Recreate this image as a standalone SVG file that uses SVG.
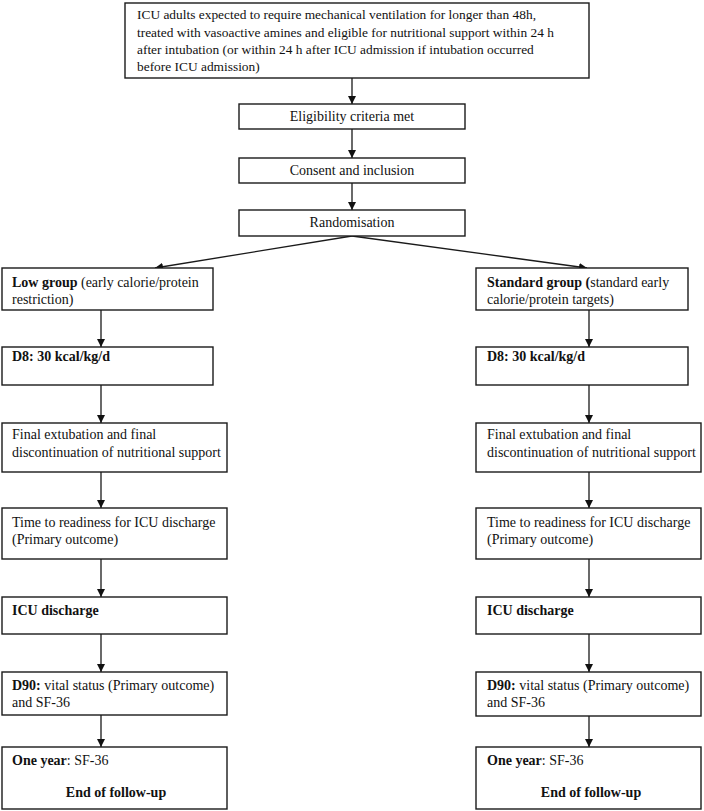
<svg xmlns="http://www.w3.org/2000/svg" width="704" height="811" viewBox="0 0 704 811">
<style>
rect{fill:#fff;stroke:#1a1a1a;stroke-width:1.4}
text{font-family:"Liberation Serif","Times New Roman",serif;font-size:14px;fill:#111}
.s{font-size:13.4px}
.b{font-weight:bold}
.c{text-anchor:middle}
.ln{stroke:#1a1a1a;stroke-width:1.3;fill:none}
</style>
<defs>
<marker id="ah" viewBox="0 0 10 10" refX="10" refY="5" markerWidth="8" markerHeight="8" markerUnits="userSpaceOnUse" orient="auto">
<path d="M0,0 L10,5 L0,10 z" fill="#111"/>
</marker>
</defs>
<rect width="704" height="811" style="fill:#fff;stroke:none"/>
<g id="connectors">
<line class="ln" x1="352" y1="78" x2="352" y2="104" marker-end="url(#ah)"/>
<line class="ln" x1="352" y1="129" x2="352" y2="158" marker-end="url(#ah)"/>
<line class="ln" x1="352" y1="183" x2="352" y2="210" marker-end="url(#ah)"/>
<line class="ln" x1="352" y1="236" x2="155" y2="268" marker-end="url(#ah)"/>
<line class="ln" x1="352" y1="236" x2="587" y2="268" marker-end="url(#ah)"/>
<line class="ln" x1="101" y1="310" x2="101" y2="347" marker-end="url(#ah)"/>
<line class="ln" x1="101" y1="385" x2="101" y2="423" marker-end="url(#ah)"/>
<line class="ln" x1="101" y1="472" x2="101" y2="508" marker-end="url(#ah)"/>
<line class="ln" x1="101" y1="559" x2="101" y2="597" marker-end="url(#ah)"/>
<line class="ln" x1="101" y1="634" x2="101" y2="672" marker-end="url(#ah)"/>
<line class="ln" x1="101" y1="715" x2="101" y2="747" marker-end="url(#ah)"/>
<line class="ln" x1="589" y1="310" x2="589" y2="347" marker-end="url(#ah)"/>
<line class="ln" x1="589" y1="385" x2="589" y2="423" marker-end="url(#ah)"/>
<line class="ln" x1="589" y1="472" x2="589" y2="508" marker-end="url(#ah)"/>
<line class="ln" x1="589" y1="559" x2="589" y2="597" marker-end="url(#ah)"/>
<line class="ln" x1="589" y1="634" x2="589" y2="672" marker-end="url(#ah)"/>
<line class="ln" x1="589" y1="715" x2="589" y2="747" marker-end="url(#ah)"/>
</g>
<g id="n-top">
<rect x="125" y="3" width="464" height="75"/>
<text class="s" x="137" y="19">ICU adults expected to require mechanical ventilation for longer than 48h,</text>
<text class="s" x="137" y="36.5">treated with vasoactive amines and eligible for nutritional support within 24 h</text>
<text class="s" x="137" y="54">after intubation (or within 24 h after ICU admission if intubation occurred</text>
<text class="s" x="137" y="71">before ICU admission)</text>
</g>
<g id="n-elig">
<rect x="239" y="104" width="226" height="25"/>
<text class="c" x="352" y="121">Eligibility criteria met</text>
</g>
<g id="n-consent">
<rect x="239" y="158" width="226" height="25"/>
<text class="c" x="352" y="175">Consent and inclusion</text>
</g>
<g id="n-rand">
<rect x="239" y="210" width="226" height="26"/>
<text class="c" x="352" y="227">Randomisation</text>
</g>
<g id="n-low">
<rect x="2" y="268" width="211" height="42"/>
<text x="12" y="287"><tspan class="b">Low group</tspan> (early calorie/protein</text>
<text x="12" y="304">restriction)</text>
</g>
<g id="n-low-d8">
<rect x="2" y="347" width="211" height="38"/>
<text x="12" y="361" class="b">D8: 30 kcal/kg/d</text>
</g>
<g id="n-low-ext">
<rect x="2" y="423" width="225" height="49"/>
<text x="12" y="439">Final extubation and final</text>
<text x="12" y="457">discontinuation of nutritional support</text>
</g>
<g id="n-low-time">
<rect x="2" y="508" width="225" height="51"/>
<text x="12" y="527">Time to readiness for ICU discharge</text>
<text x="12" y="544">(Primary outcome)</text>
</g>
<g id="n-low-icu">
<rect x="2" y="597" width="225" height="37"/>
<text x="12" y="615" class="b">ICU discharge</text>
</g>
<g id="n-low-d90">
<rect x="2" y="672" width="225" height="43"/>
<text x="12" y="690"><tspan class="b">D90:</tspan> vital status (Primary outcome)</text>
<text x="12" y="707">and SF-36</text>
</g>
<g id="n-low-year">
<rect x="2" y="747" width="225" height="62"/>
<text x="12" y="765"><tspan class="b">One year</tspan>: SF-36</text>
<text class="c b" x="116" y="797">End of follow-up</text>
</g>
<g id="n-std">
<rect x="476" y="268" width="212" height="42"/>
<text x="487" y="287"><tspan class="b">Standard group (</tspan>standard early</text>
<text x="487" y="304">calorie/protein targets)</text>
</g>
<g id="n-std-d8">
<rect x="476" y="347" width="212" height="38"/>
<text x="487" y="361" class="b">D8: 30 kcal/kg/d</text>
</g>
<g id="n-std-ext">
<rect x="476" y="423" width="225" height="49"/>
<text x="487" y="439">Final extubation and final</text>
<text x="487" y="457">discontinuation of nutritional support</text>
</g>
<g id="n-std-time">
<rect x="476" y="508" width="225" height="51"/>
<text x="487" y="527">Time to readiness for ICU discharge</text>
<text x="487" y="544">(Primary outcome)</text>
</g>
<g id="n-std-icu">
<rect x="476" y="597" width="225" height="37"/>
<text x="487" y="615" class="b">ICU discharge</text>
</g>
<g id="n-std-d90">
<rect x="476" y="672" width="225" height="44"/>
<text x="487" y="690"><tspan class="b">D90:</tspan> vital status (Primary outcome)</text>
<text x="487" y="707">and SF-36</text>
</g>
<g id="n-std-year">
<rect x="476" y="747" width="225" height="62"/>
<text x="487" y="765"><tspan class="b">One year</tspan>: SF-36</text>
<text class="c b" x="591" y="797">End of follow-up</text>
</g>
</svg>
